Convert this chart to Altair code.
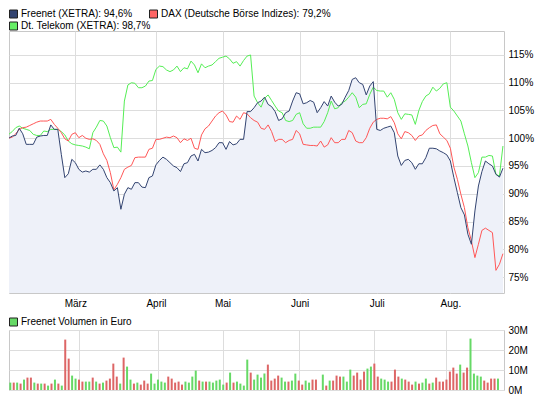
import altair as alt
import pandas as pd

# ---------------- data ----------------
months = ["März", "April", "Mai", "Juni", "Juli", "Aug."]
month_start_idx = [20, 43, 62, 84, 106, 127]   # trading-day index of month start

y_ticks = [75, 80, 85, 90, 95, 100, 105, 110, 115]
vol_ticks = [0, 10, 20, 30]

freenet = [
    100.0, 100.0, 100.4, 100.5, 101.8, 100.8, 98.9, 98.9, 98.9, 100.2,
    100.4, 100.5, 100.5, 102.4, 101.6, 101.6, 97.1, 92.9, 93.6, 96.2,
    95.6, 94.4, 93.9, 94.1, 93.9, 94.4, 94.4, 95.2, 94.4, 92.9,
    92.0, 90.5, 91.1, 87.2, 89.9, 91.1, 90.8, 92.0, 92.0, 91.2,
    91.1, 92.9, 93.2, 95.2, 96.0, 96.6, 96.2, 95.6, 95.0, 94.7,
    94.0, 95.4, 95.6, 96.8, 97.1, 95.9, 98.0, 97.4, 97.5, 97.8,
    98.3, 99.2, 99.2, 98.0, 99.4, 98.8, 99.0, 99.8, 99.8, 104.8,
    104.8, 105.5, 106.4, 106.7, 107.4, 106.1, 105.7, 104.8, 103.2, 103.5,
    104.6, 104.9, 106.7, 108.2, 108.0, 106.2, 106.4, 106.8, 106.5, 104.6,
    105.5, 106.6, 105.8, 107.6, 106.5, 105.8, 106.1, 107.4, 108.6, 110.6,
    110.9, 110.0, 109.7, 107.8, 109.4, 110.2, 101.6, 101.4, 101.8, 102.0,
    102.2, 101.0, 96.8, 95.1, 96.0, 96.2, 95.6, 94.4, 95.4, 95.4,
    96.5, 98.2, 98.2, 98.1, 97.7, 97.4, 97.0, 95.9, 92.9, 90.2,
    87.5, 86.2, 82.7, 80.9, 86.9, 91.4, 94.0, 95.9, 95.4, 95.0,
    93.5, 93.0, 94.6,
]

dax = [
    100.0, 100.0, 100.2, 100.8, 101.6, 101.9, 102.0, 102.3, 102.6, 102.9,
    103.1, 103.1, 103.1, 103.4, 102.5, 101.8, 101.0, 99.9, 99.5, 100.7,
    101.0, 100.1, 100.5, 100.0, 99.8, 99.9, 99.6, 98.9, 97.2, 96.0,
    93.8, 90.7, 91.7, 92.9, 94.4, 94.8, 95.1, 96.5, 96.6, 96.6,
    96.6, 98.0, 98.2, 99.8, 99.8, 100.0, 100.2, 100.1, 100.4, 100.1,
    99.2, 99.9, 99.6, 100.0, 98.2, 98.0, 100.6, 101.7, 102.2, 103.1,
    104.0, 104.6, 104.9, 104.2, 103.0, 102.9, 104.0, 103.4, 104.6, 104.4,
    103.7, 103.2, 102.9, 101.8, 101.6, 102.4, 101.2, 99.4, 99.8, 99.8,
    99.2, 99.6, 99.8, 101.4, 100.8, 98.9, 98.8, 98.7, 98.7, 98.6,
    99.5, 98.4, 98.8, 100.1, 99.2, 99.2, 99.8, 99.8, 101.4, 101.0,
    99.5, 99.2, 99.2, 100.1, 101.8, 102.9, 103.4, 103.6, 103.6, 103.5,
    103.9, 102.8, 100.8, 99.9, 101.2, 101.0, 100.5, 99.6, 100.4, 100.6,
    101.4, 101.9, 102.3, 102.4, 100.8, 100.2, 99.6, 98.2, 94.8, 92.6,
    89.9, 87.5, 83.9, 81.5, 78.5, 80.9, 83.4, 83.8, 83.4, 83.0,
    76.2, 77.3, 79.2,
]

telekom = [
    100.0, 100.7, 101.2, 101.9, 102.2, 101.8, 101.6, 101.4, 100.7, 100.5,
    100.5, 101.3, 101.2, 101.6, 101.6, 101.6, 101.2, 100.6, 99.5, 99.0,
    98.8, 98.7, 98.6, 98.4, 98.1, 101.0, 102.0, 103.2, 103.1, 102.2,
    100.1, 98.3, 98.4, 97.5, 106.7, 109.6, 110.0, 109.9, 109.1, 109.1,
    109.4, 110.3, 110.4, 112.4, 113.0, 112.9, 112.3, 112.0, 112.3, 113.0,
    112.0, 112.7, 112.5, 113.9, 113.2, 111.8, 113.4, 112.7, 113.0, 113.2,
    113.8, 114.4, 114.6, 114.8, 114.3, 113.5, 113.8, 113.0, 114.0, 114.8,
    115.0, 107.6, 106.4, 105.6, 107.2, 107.8, 106.8, 105.8, 104.9, 104.6,
    103.2, 103.0, 103.2, 104.3, 104.6, 102.6, 101.8, 101.8, 102.0, 102.0,
    102.0, 103.0, 104.6, 106.7, 105.3, 105.5, 106.4, 106.7, 107.4, 108.2,
    107.4, 105.5, 106.1, 106.2, 107.9, 109.2, 108.6, 108.5, 108.5, 107.4,
    108.2, 107.0, 104.6, 103.4, 104.4, 104.3, 104.2, 102.5, 105.0, 106.6,
    107.6, 108.0, 109.2, 108.5, 109.0, 109.8, 110.0, 105.6, 104.9, 104.0,
    103.1, 100.8, 98.6, 95.6, 92.9, 93.8, 96.6, 96.6, 96.9, 96.8,
    93.5, 93.2, 98.6,
]

# Freenet volume in million euro
volume_m = [
    3.7, 3.7, 3.7, 3.2, 5.2, 6.2, 6.2, 3.7, 3.2, 3.2,
    3.2, 2.2, 3.2, 5.2, 3.2, 2.2, 25.2, 15.7, 7.2, 5.7,
    5.2, 4.2, 4.2, 4.2, 6.2, 4.2, 3.2, 3.7, 4.7, 5.7,
    13.2, 6.7, 3.2, 16.2, 11.7, 5.2, 3.2, 3.7, 2.7, 4.7,
    3.2, 8.2, 3.2, 5.2, 4.2, 3.7, 6.7, 5.7, 3.7, 4.2,
    2.7, 4.2, 3.7, 6.7, 9.7, 4.7, 4.2, 4.2, 4.2, 3.7,
    4.7, 5.2, 2.7, 3.7, 8.7, 3.7, 4.2, 3.2, 2.2, 15.2,
    8.7, 5.2, 7.7, 6.2, 8.2, 12.7, 4.7, 5.7, 7.2, 6.2,
    4.2, 4.2, 4.7, 8.2, 4.7, 2.7, 4.7, 3.7, 5.2, 5.2,
    0.0, 7.7, 2.2, 4.7, 4.7, 7.2, 6.7, 6.7, 4.2, 10.2,
    7.2, 8.7, 5.2, 9.2, 10.7, 11.7, 13.2, 6.7, 5.7, 5.2,
    4.2, 4.2, 10.2, 6.7, 5.7, 5.2, 4.2, 2.7, 4.2, 3.2,
    3.7, 5.7, 3.2, 3.7, 6.2, 4.2, 4.2, 5.2, 9.2, 11.2,
    8.2, 12.7, 8.7, 11.2, 25.7, 8.2, 7.2, 6.7, 4.7, 3.7,
    5.7, 5.7, 5.7,
]
# bar colour: g = green (up day), r = red (down day)
volume_dir = (
    "g r g r g r r g r g  r g r g r g r r g g  r r g g r g r g r r "
    "r r g r g g r g r r  r g g g g g r r r r  r g g g g r g r g g "
    "g g g r g r g g g g  r g g g g r r r r g  g r g g r r g g r r "
    "g g r g r r r g g g  r r r r g g r r g g  g r r r g r r r g r "
    "g g r g r r r r r r  r g r r g g g g r r  r r g"
).split()

legend_top = ["Freenet (XETRA): 94,6%", "DAX (Deutsche Börse Indizes): 79,2%",
              "Dt. Telekom (XETRA): 98,7%"]
legend_vol = "Freenet Volumen in Euro"

# ---------------- styles ----------------
FONT = "Liberation Sans"
C_FREENET = "#334471"
C_DAX = "#ff5757"
C_TELEKOM = "#55ee55"
C_AREA = "#eef1f9"
C_UP = "#66d966"
C_DOWN = "#dd6666"
GRID = "#dddddd"
FRAME = "#c8c8c8"

W = 495
H_TOP = 262
H_VOL = 60
X_MIN, X_MAX = 1.08, 142.3
Y_MIN, Y_MAX = 72.12, 119.32

n = len(freenet)
idx = list(range(n))
df_lines = pd.DataFrame({
    "idx": idx * 3,
    "value": freenet + dax + telekom,
    "series": ["Freenet"] * n + ["DAX"] * n + ["Telekom"] * n,
})
dirs = ["up" if c == "g" else "down" for c in volume_dir]
df_vol = pd.DataFrame({"idx": idx, "vol": volume_m, "dir": dirs})

label_expr = " : ".join(
    f"datum.value == {v} ? '{m}'" for v, m in zip(month_start_idx, months)
) + " : ''"

x_top = alt.X(
    "idx:Q",
    scale=alt.Scale(domain=[X_MIN, X_MAX], nice=False, zero=False),
    axis=alt.Axis(values=month_start_idx, labelExpr=label_expr, grid=True,
                  title=None, labelPadding=5, labelFlush=False),
)
y_top = alt.Y(
    "value:Q",
    scale=alt.Scale(domain=[Y_MIN, Y_MAX], nice=False, zero=False),
    axis=alt.Axis(orient="right", values=y_ticks, labelExpr="datum.value + '%'",
                  grid=True, title=None, labelPadding=4),
)

base = alt.Chart(df_lines)
area = base.transform_filter(alt.datum.series == "Freenet").mark_area(
    color=C_AREA, clip=True
).encode(x=x_top, y=y_top, y2=alt.datum(Y_MIN))


def line(name, color):
    return base.transform_filter(alt.datum.series == name).mark_line(
        color=color, strokeWidth=1, clip=True
    ).encode(x=x_top, y=y_top)


def legend_item(text, color, px, py):
    d = pd.DataFrame({"t": [text]})
    sq = alt.Chart(d).mark_rect(fill=color, stroke="#222222", strokeWidth=1).encode(
        x=alt.value(px + 0.5), x2=alt.value(px + 8.5),
        y=alt.value(py - 4), y2=alt.value(py + 4),
    )
    tx = alt.Chart(d).mark_text(
        align="left", baseline="middle", font=FONT, fontSize=10, color="#000000"
    ).encode(x=alt.value(px + 12), y=alt.value(py), text="t:N")
    return [sq, tx]


top_layers = [area, line("Telekom", C_TELEKOM), line("DAX", C_DAX),
              line("Freenet", C_FREENET)]
top_layers += legend_item(legend_top[0], C_FREENET, 0, -17)
top_layers += legend_item(legend_top[1], "#ff6666", 140, -17)
top_layers += legend_item(legend_top[2], "#66ee66", 0, -5)

top = alt.layer(*top_layers).properties(width=W, height=H_TOP)

x_vol = alt.X(
    "idx:Q",
    scale=alt.Scale(domain=[X_MIN, X_MAX], nice=False, zero=False),
    axis=alt.Axis(values=month_start_idx, labels=False, grid=True, title=None),
)
bars = alt.Chart(df_vol).mark_bar(size=2, clip=True).encode(
    x=x_vol,
    y=alt.Y("vol:Q", scale=alt.Scale(domain=[0, 30], nice=False),
            axis=alt.Axis(orient="right", values=vol_ticks,
                          labelExpr="datum.value + 'M'", grid=True, title=None,
                          labelPadding=4)),
    color=alt.Color("dir:N", scale=alt.Scale(domain=["up", "down"],
                                             range=[C_UP, C_DOWN]), legend=None),
)
vol_layers = [bars] + legend_item(legend_vol, C_UP, 0, -8)
bottom = alt.layer(*vol_layers).properties(width=W, height=H_VOL)

chart = alt.vconcat(top, bottom, spacing=7).properties(
    padding=0, background="white"
).configure_view(stroke=FRAME, strokeWidth=1).configure_axis(
    gridColor=GRID, gridWidth=1, domain=False, ticks=False,
    labelFont=FONT, labelFontSize=10, labelColor="#000000",
)

chart.save("out.html", embed_options={"renderer": "svg", "actions": False})
